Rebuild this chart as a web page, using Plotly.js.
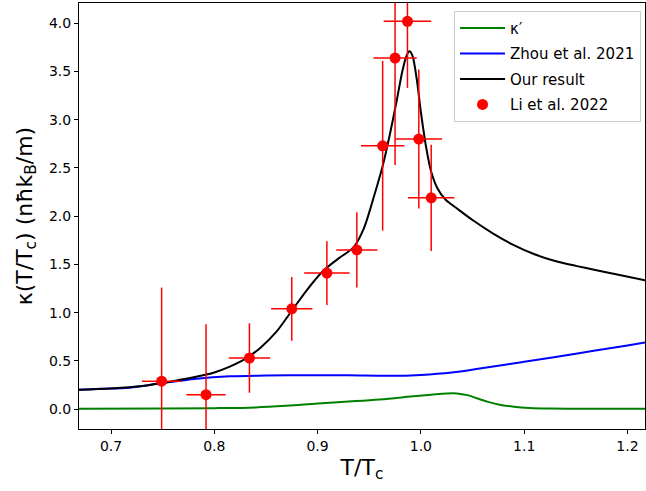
<!DOCTYPE html>
<html>
<head>
<meta charset="utf-8">
<script src="https://cdn.plot.ly/plotly-3.0.1.min.js"></script>
<style>html,body{margin:0;padding:0;background:#fff;}#plot{width:646px;height:491px;}</style>
</head>
<body>
<div id="plot"></div>
<script>
// κ' curve
const greenT = [0.669, 0.75, 0.80, 0.84, 0.87, 0.90, 0.93, 0.96, 0.99, 1.01, 1.025, 1.035, 1.045, 1.055, 1.065, 1.075, 1.09, 1.105, 1.125, 1.16, 1.217];
const greenK = [0.005, 0.007, 0.01, 0.018, 0.035, 0.058, 0.078, 0.10, 0.13, 0.15, 0.163, 0.163, 0.145, 0.11, 0.075, 0.048, 0.025, 0.012, 0.006, 0.004, 0.004];

// Zhou et al. 2021
const blueT = [0.669, 0.69, 0.718, 0.749, 0.783, 0.815, 0.85, 0.892, 0.93, 0.97, 1.00, 1.03, 1.057, 1.10, 1.153, 1.20, 1.217];
const blueK = [0.20, 0.21, 0.222, 0.27, 0.316, 0.34, 0.348, 0.352, 0.35, 0.345, 0.355, 0.38, 0.42, 0.49, 0.58, 0.66, 0.69];

// Our result
const blackT = [0.669, 0.70, 0.73, 0.76, 0.78, 0.80, 0.815, 0.83, 0.845, 0.86, 0.875, 0.89, 0.905, 0.92, 0.935, 0.945, 0.955, 0.963, 0.97, 0.977, 0.982, 0.986, 0.989, 0.992, 0.996, 1.00, 1.005, 1.01, 1.016, 1.024, 1.035, 1.05, 1.07, 1.09, 1.11, 1.13, 1.15, 1.17, 1.19, 1.217];
const blackK = [0.20, 0.215, 0.24, 0.29, 0.33, 0.38, 0.44, 0.52, 0.64, 0.80, 1.02, 1.24, 1.43, 1.56, 1.68, 1.88, 2.22, 2.52, 2.85, 3.22, 3.50, 3.66, 3.71, 3.66, 3.42, 3.08, 2.72, 2.46, 2.29, 2.17, 2.08, 1.96, 1.82, 1.70, 1.605, 1.535, 1.485, 1.44, 1.395, 1.335];

// Li et al. 2022
const liT = [0.749, 0.792, 0.834, 0.875, 0.909, 0.938, 0.963, 0.975, 0.987, 0.998, 1.010];
const liK = [0.29, 0.15, 0.53, 1.04, 1.41, 1.65, 2.73, 3.64, 4.02, 2.80, 2.19];
const liErrK = [0.97, 0.73, 0.36, 0.33, 0.33, 0.39, 0.88, 1.11, 0.69, 0.72, 0.55];
const liErrT = [0.019, 0.019, 0.02, 0.02, 0.022, 0.02, 0.021, 0.021, 0.023, 0.0225, 0.0225];

const lineW = 2;
const traces = [
  {x: greenT, y: greenK, mode: 'lines', name: 'κ′', legendgroup: 'a',
   line: {color: '#008000', width: lineW, shape: 'spline', smoothing: 1}},
  {x: blueT, y: blueK, mode: 'lines', name: 'Zhou et al. 2021', legendgroup: 'b',
   line: {color: '#0000ff', width: lineW, shape: 'spline', smoothing: 1}},
  {x: blackT, y: blackK, mode: 'lines', name: 'Our result', legendgroup: 'c',
   line: {color: '#000000', width: lineW, shape: 'spline', smoothing: 0.8}},
  {x: liT, y: liK, mode: 'markers', name: 'Li et al. 2022', legendgroup: 'd',
   marker: {color: '#ff0000', size: 11},
   error_y: {type: 'data', array: liErrK, visible: true, color: '#ff0000', thickness: 1.5, width: 0},
   error_x: {type: 'data', array: liErrT, visible: true, color: '#ff0000', thickness: 1.5, width: 0}}
];

const layout = {
  width: 646, height: 491,
  margin: {l: 79, r: 1, t: 3, b: 62},
  paper_bgcolor: '#fff', plot_bgcolor: '#fff',
  font: {family: 'DejaVu Sans, sans-serif', color: '#000'},
  showlegend: true,
  legend: {
    x: 0.993, y: 0.982, xanchor: 'right', yanchor: 'top',
    bgcolor: 'rgba(255,255,255,0.8)', bordercolor: '#cccccc', borderwidth: 1,
    font: {family: 'DejaVu Sans, sans-serif', size: 15, color: '#000'},
    traceorder: 'grouped', tracegroupgap: 3, itemwidth: 45
  },
  xaxis: {
    range: [0.669, 1.217], tickvals: [0.7, 0.8, 0.9, 1.0, 1.1, 1.2],
    ticktext: ['0.7', '0.8', '0.9', '1.0', '1.1', '1.2'],
    ticks: 'outside', ticklen: 4, tickcolor: '#000', tickwidth: 1,
    showline: true, linecolor: '#000', linewidth: 1, mirror: true,
    showgrid: false, zeroline: false,
    tickfont: {family: 'DejaVu Sans, sans-serif', size: 14, color: '#000'},
    title: {text: 'T/T<sub>c</sub>', font: {family: 'DejaVu Sans, sans-serif', size: 22, color: '#000'}, standoff: 6}
  },
  yaxis: {
    range: [-0.206, 4.21], tickvals: [0, 0.5, 1, 1.5, 2, 2.5, 3, 3.5, 4],
    ticktext: ['0.0', '0.5', '1.0', '1.5', '2.0', '2.5', '3.0', '3.5', '4.0'],
    ticks: 'outside', ticklen: 4, tickcolor: '#000', tickwidth: 1,
    showline: true, linecolor: '#000', linewidth: 1, mirror: true,
    showgrid: false, zeroline: false,
    tickfont: {family: 'DejaVu Sans, sans-serif', size: 14, color: '#000'},
    title: {text: 'κ(T/T<sub>c</sub>) (nħk<sub>B</sub>/m)', font: {family: 'DejaVu Sans, sans-serif', size: 22, color: '#000'}, standoff: 10}
  }
};

Plotly.newPlot('plot', traces, layout, {displayModeBar: false, staticPlot: true});
</script>
</body>
</html>
